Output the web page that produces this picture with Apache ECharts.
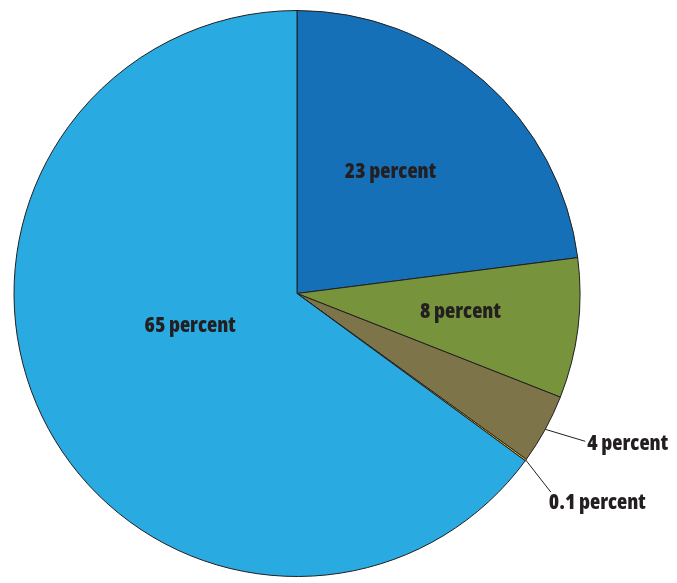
<!DOCTYPE html>
<html>
<head>
<meta charset="utf-8">
<style>
  html, body { margin: 0; padding: 0; background: #ffffff; }
  #chart { width: 677px; height: 583px; }
</style>
<script src="https://cdn.jsdelivr.net/npm/echarts@6/dist/echarts.min.js"></script>
</head>
<body>
<div id="chart"></div>
<script>
// Share of each category, clockwise from 12 o'clock
var categories = ['Category A', 'Category B', 'Category C', 'Category D', 'Category E'];
var shares = [23, 8, 4, 0.1, 65];
var sliceLabels = ['23 percent', '8 percent', '4 percent', '0.1 percent', '65 percent'];
var sliceColors = ['#1570b8', '#77933c', '#7e7449', '#f5b81c', '#29abe2'];

// Which labels sit outside the pie on a leader line
var outsideLabel = [false, false, true, true, false];
// Nudges for the inside labels
var insideOffsets = [[-2, -13], [20, 1], null, null, [22, -33]];
// Leader line end and label anchor, relative to where the line leaves the slice
var leaderOffsets = { 2: [40, 12, 42, 15], 3: [25, 32, 23, 43] };

var fontStack = '"Open Sans", "DejaVu Sans Condensed", sans-serif';

var chart = echarts.init(document.getElementById('chart'), null, { renderer: 'canvas' });

var data = shares.map(function (v, i) {
  var item = {
    name: categories[i],
    value: v,
    itemStyle: { color: sliceColors[i] },
    label: {
      show: true,
      formatter: sliceLabels[i],
      position: outsideLabel[i] ? 'outside' : 'inside'
    },
    labelLine: { show: outsideLabel[i] }
  };
  if (insideOffsets[i]) item.label.offset = insideOffsets[i];
  return item;
});

chart.setOption({
  animation: false,
  series: [{
    type: 'pie',
    center: [297, 293.5],
    radius: [0, 283],
    startAngle: 90,
    clockwise: true,
    avoidLabelOverlap: false,
    minShowLabelAngle: 0,
    itemStyle: { borderColor: '#231f20', borderWidth: 1 },
    label: {
      color: '#231f20',
      fontFamily: fontStack,
      fontStyle: 'semi-condensed',
      fontWeight: 800,
      fontSize: 21
    },
    labelLine: {
      length: 20,
      length2: 0,
      lineStyle: { color: '#231f20', width: 1 }
    },
    labelLayout: function (p) {
      var off = leaderOffsets[p.dataIndex];
      if (!off || !p.labelLinePoints) return {};
      var s = p.labelLinePoints[0];
      var e = [s[0] + off[0], s[1] + off[1]];
      return {
        x: s[0] + off[2],
        y: s[1] + off[3],
        align: 'left',
        verticalAlign: 'middle',
        labelLinePoints: [s, e, e]
      };
    },
    emphasis: { disabled: true },
    data: data
  }]
});
</script>
</body>
</html>
